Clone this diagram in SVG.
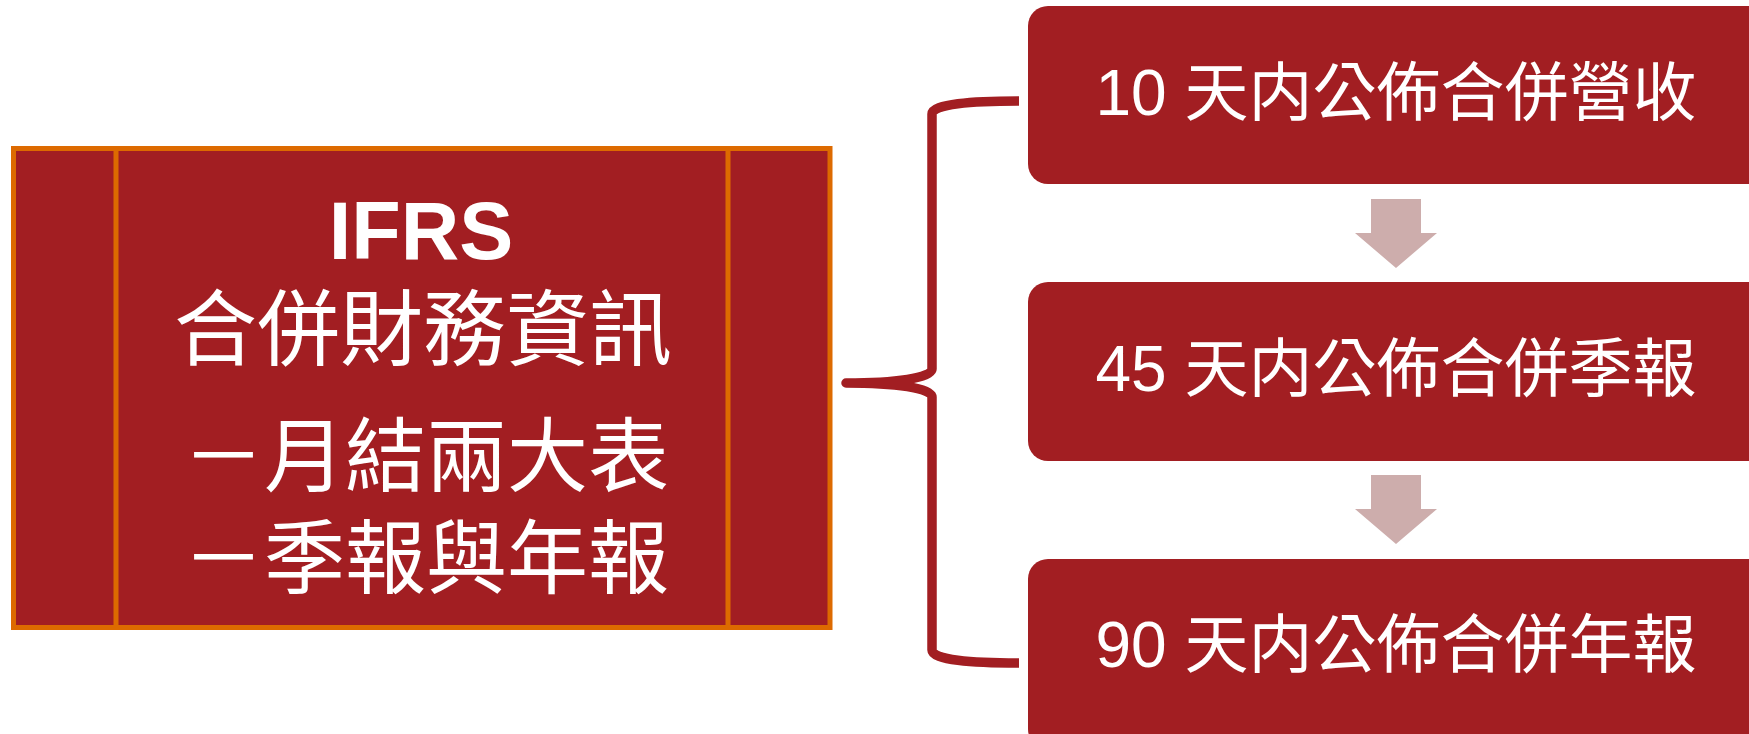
<svg xmlns="http://www.w3.org/2000/svg" width="1749" height="734" viewBox="0 0 1749 734">
<style>
.box{fill:#A21E22}
.main{fill:#A21E22;stroke:#DD6A00;stroke-width:5}
.div{stroke:#DD6A00;stroke-width:5}
.t{fill:#FFFFFF;font-family:"Liberation Sans","Noto Sans CJK TC",sans-serif;text-anchor:middle}
.brace{fill:none;stroke:#A21E22;stroke-width:9.5;stroke-linejoin:round;stroke-linecap:butt}
.arrow{fill:#CDADAC}
</style>
<rect width="1749" height="734" fill="#FFFFFF"/>
<g id="main-node">
<rect class="main" x="13.5" y="148.5" width="816.5" height="479"/>
<line class="div" x1="116" y1="148.5" x2="116" y2="627.5"/>
<line class="div" x1="728" y1="148.5" x2="728" y2="627.5"/>
<text class="t" x="421" y="259" font-size="81" font-weight="bold">IFRS</text>
<text class="t" x="423" y="359" font-size="83">合併財務資訊</text>
<text class="t" x="426" y="485" font-size="81">－月結兩大表</text>
<text class="t" x="426" y="587" font-size="81">－季報與年報</text>
</g>
<g id="node-10">
<rect class="box" x="1028" y="6" width="760" height="178" rx="20"/>
<text class="t" x="1396" y="115" font-size="64">10 天内公佈合併營收</text>
</g>
<g id="node-45">
<rect class="box" x="1028" y="282" width="760" height="179" rx="20"/>
<text class="t" x="1396" y="391" font-size="64">45 天内公佈合併季報</text>
</g>
<g id="node-90">
<rect class="box" x="1028" y="559" width="760" height="190" rx="20"/>
<text class="t" x="1396" y="667" font-size="64">90 天内公佈合併年報</text>
</g>
<g id="connectors">
<path class="brace" d="M1019,101 C972,101 932,104 932,114 L932,369 C932,378 895,383 846,383 C895,383 932,388 932,397 L932,650 C932,660 972,663 1019,663"/>
<polygon class="arrow" points="1371,199 1421,199 1421,233 1437,233 1396,268 1355,233 1371,233"/>
<polygon class="arrow" points="1371,475 1421,475 1421,509 1437,509 1396,544 1355,509 1371,509"/>
</g>
</svg>
